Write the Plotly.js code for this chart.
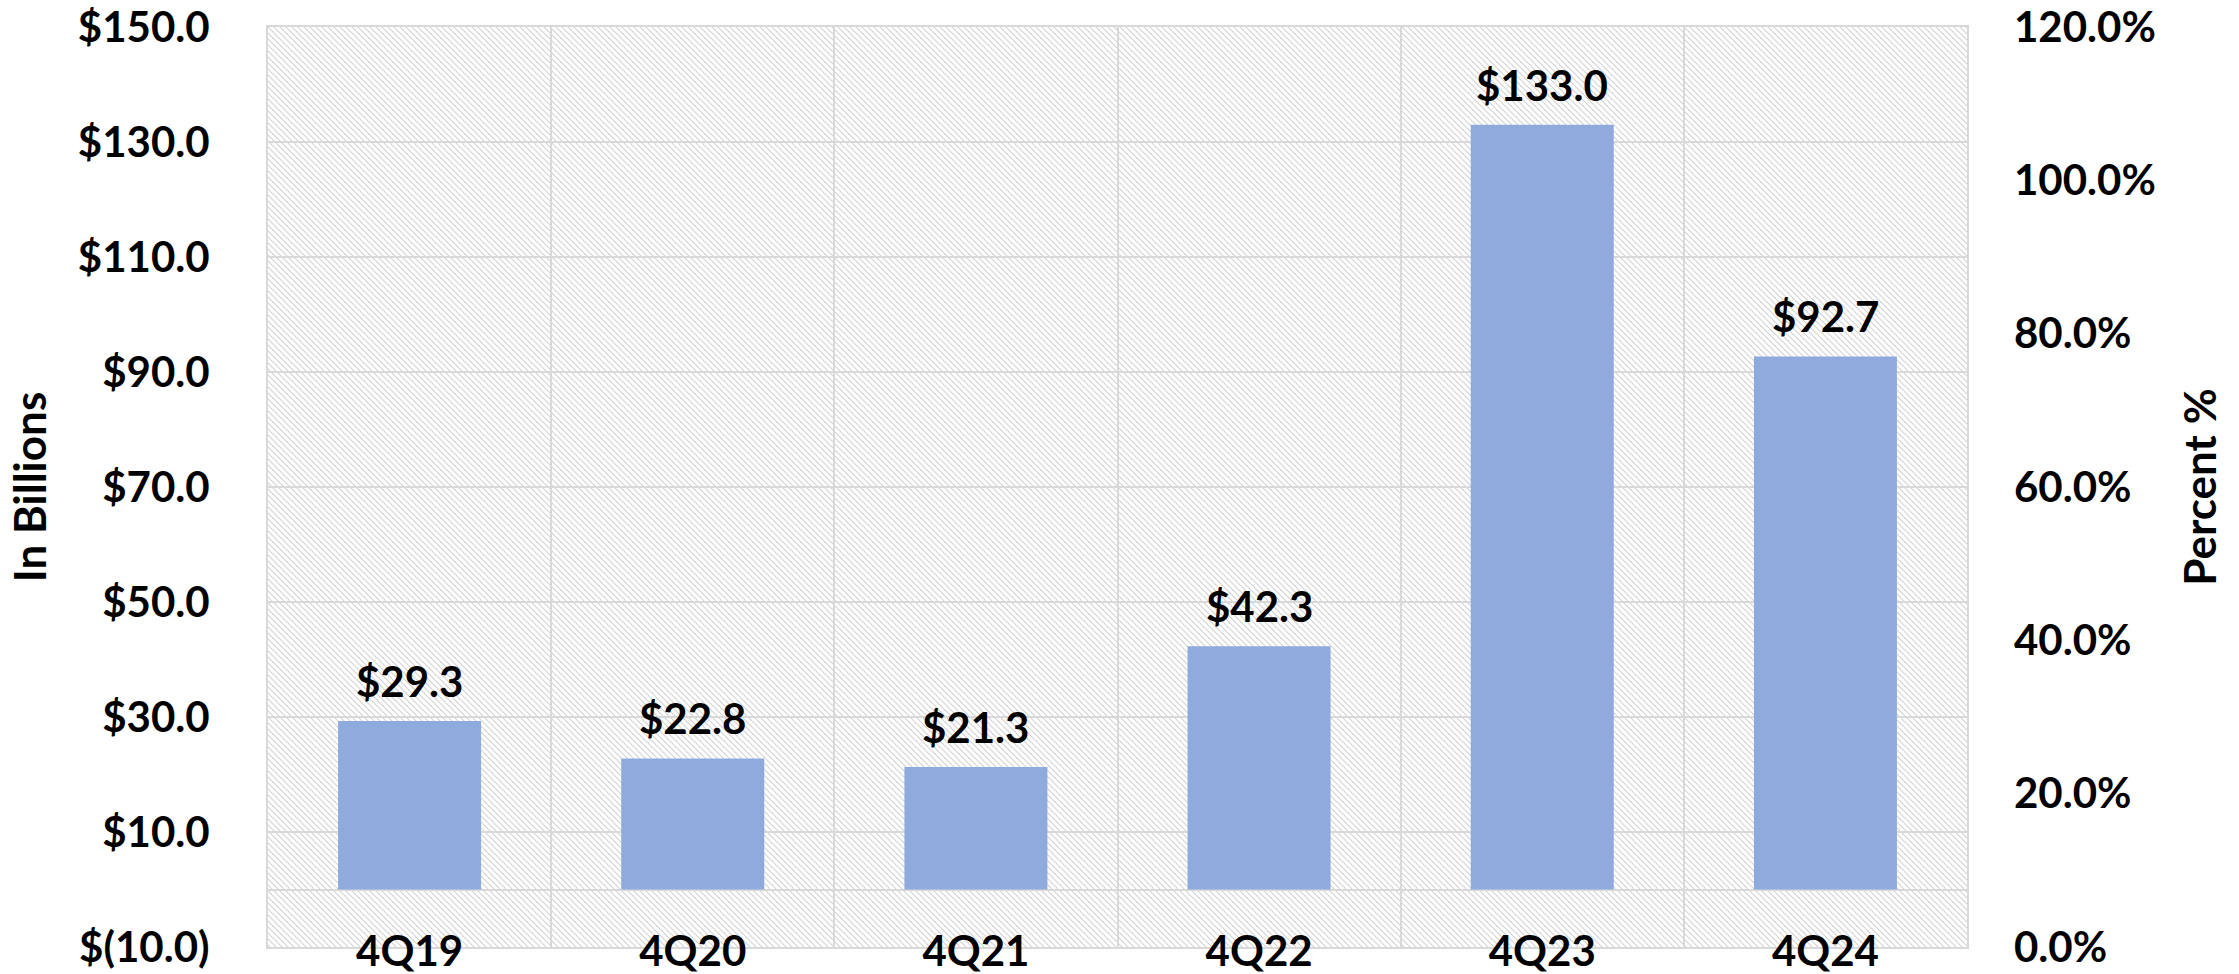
<!DOCTYPE html>
<html>
<head>
<meta charset="utf-8">
<script src="https://cdn.plot.ly/plotly-3.0.1.min.js"></script>
<style>
  html, body { margin: 0; padding: 0; background: #ffffff; }
  #chart { width: 2239px; height: 974px; }
</style>
</head>
<body>
<div id="chart"></div>
<script>
// ---- data ----
const categories = ['4Q19', '4Q20', '4Q21', '4Q22', '4Q23', '4Q24'];
const values = [29.3, 22.8, 21.3, 42.3, 133.0, 92.7];
const leftTickVals = [-10, 10, 30, 50, 70, 90, 110, 130, 150];
const leftTickText = ['$(10.0)', '$10.0', '$30.0', '$50.0', '$70.0', '$90.0', '$110.0', '$130.0', '$150.0'];
const rightTickVals = [0, 20, 40, 60, 80, 100, 120];
const rightTickText = ['0.0%', '20.0%', '40.0%', '60.0%', '80.0%', '100.0%', '120.0%'];
const leftTitle = 'In Billions';
const rightTitle = 'Percent %';

// ---- styling ----
const FONT = 'Lato, "Open Sans", "DejaVu Sans", sans-serif';
const FS = 42;
const TFS = 44;
const GRID = '#d9d9d9';
const BAR = '#8faadc';

// hatched plot background (Excel-like light downward diagonal)
const W = 1699, H = 920;
const hatchSvg =
  '<svg xmlns="http://www.w3.org/2000/svg" width="' + W + '" height="' + H + '">' +
  '<defs><pattern id="h" patternUnits="userSpaceOnUse" width="6" height="6">' +
  '<path d="M-1,-1 L7,7 M-1,5 L1,7 M5,-1 L7,1" stroke="#d2d2d2" stroke-width="1.1"/>' +
  '</pattern></defs>' +
  '<rect width="100%" height="100%" fill="#ffffff"/>' +
  '<rect width="100%" height="100%" fill="url(#h)"/></svg>';
const hatchSrc = 'data:image/svg+xml;charset=utf-8,' + encodeURIComponent(hatchSvg);

const bars = {
  type: 'bar',
  x: categories,
  y: values,
  marker: { color: BAR, line: { width: 0 } },
  hoverinfo: 'skip',
  showlegend: false
};

// empty trace so that the secondary (percent) axis is drawn
const percentAxisHolder = {
  type: 'scatter',
  mode: 'markers',
  x: categories,
  y: categories.map(() => null),
  yaxis: 'y2',
  hoverinfo: 'skip',
  showlegend: false
};

const labels = categories.map((c, i) => ({
  x: c,
  y: values[i],
  xref: 'x',
  yref: 'y',
  text: '$' + values[i].toFixed(1),
  showarrow: false,
  yanchor: 'bottom',
  yshift: 13,
  font: { family: FONT, size: FS, color: '#000000', weight: 700 }
}));

const layout = {
  width: 2239,
  height: 974,
  margin: { l: 268, r: 272, t: 27, b: 27, pad: 0 },
  paper_bgcolor: '#ffffff',
  plot_bgcolor: '#ffffff',
  bargap: 0.495,
  font: { family: FONT, size: FS, color: '#000000', weight: 700 },
  showlegend: false,
  images: [{
    source: hatchSrc,
    xref: 'paper', yref: 'paper',
    x: 0, y: 1, sizex: 1, sizey: 1,
    xanchor: 'left', yanchor: 'top',
    sizing: 'stretch',
    layer: 'below'
  }],
  xaxis: {
    type: 'category',
    tickson: 'boundaries',
    showgrid: true,
    gridcolor: GRID,
    gridwidth: 2,
    showline: true,
    linecolor: GRID,
    linewidth: 2,
    mirror: true,
    ticks: '',
    ticklabelstandoff: -33,
    tickfont: { family: FONT, size: FS, color: '#000000', weight: 700 },
    automargin: false,
    fixedrange: true
  },
  yaxis: {
    range: [-10, 150],
    tickvals: leftTickVals,
    ticktext: leftTickText,
    showgrid: true,
    gridcolor: GRID,
    gridwidth: 2,
    zeroline: true,
    zerolinecolor: GRID,
    zerolinewidth: 2,
    showline: true,
    linecolor: GRID,
    linewidth: 2,
    mirror: true,
    ticks: '',
    ticklabelstandoff: 48,
    tickfont: { family: FONT, size: FS, color: '#000000', weight: 700 },
    title: { text: leftTitle, standoff: 17, font: { family: FONT, size: TFS, color: '#000000', weight: 700 } },
    automargin: false,
    fixedrange: true
  },
  yaxis2: {
    overlaying: 'y',
    side: 'right',
    range: [0, 120],
    tickvals: rightTickVals,
    ticktext: rightTickText,
    showgrid: false,
    zeroline: false,
    showline: false,
    ticks: '',
    ticklabelstandoff: 46,
    tickfont: { family: FONT, size: FS, color: '#000000', weight: 700 },
    title: { text: rightTitle, standoff: 30, font: { family: FONT, size: TFS, color: '#000000', weight: 700 } },
    automargin: false,
    fixedrange: true
  },
  annotations: labels
};

Plotly.newPlot('chart', [bars, percentAxisHolder], layout, { displayModeBar: false, staticPlot: true });
</script>
</body>
</html>
